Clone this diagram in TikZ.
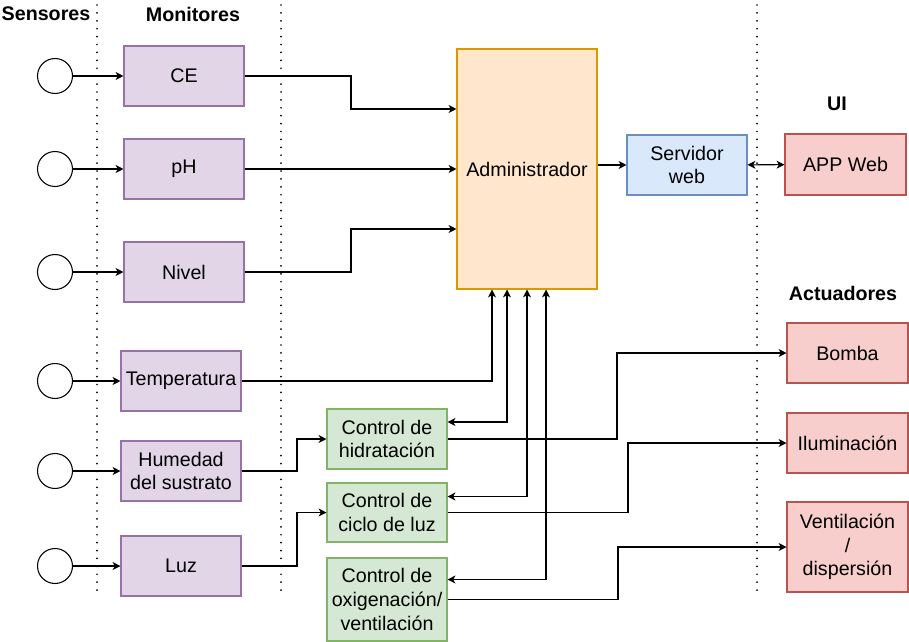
\documentclass[tikz,border=0pt]{standalone}
\usepackage{fontspec}
\setmainfont{Liberation Sans}
\usetikzlibrary{arrows.meta, calc}
\definecolor{monfill}{HTML}{E1D5E7}
\definecolor{mondraw}{HTML}{9673A6}
\definecolor{admfill}{HTML}{FFE6CC}
\definecolor{admdraw}{HTML}{D79B00}
\definecolor{srvfill}{HTML}{DAE8FC}
\definecolor{srvdraw}{HTML}{6C8EBF}
\definecolor{actfill}{HTML}{F8CECC}
\definecolor{actdraw}{HTML}{B85450}
\definecolor{ctlfill}{HTML}{D5E8D4}
\definecolor{ctldraw}{HTML}{82B366}

\begin{document}
\begin{tikzpicture}[x=0.02cm, y=-0.02cm, font=\fontsize{11.2}{13.4}\selectfont,
  box/.style={rectangle, draw, line width=0.6pt, minimum width=2.4cm, minimum height=1.2cm, align=center, inner sep=1pt},
  mon/.style={box, fill=monfill, draw=mondraw},
  ctl/.style={box, fill=ctlfill, draw=ctldraw},
  act/.style={box, fill=actfill, draw=actdraw, minimum width=2.42cm},
  sensor/.style={circle, draw, line width=0.6pt, minimum size=0.7cm, inner sep=0pt},
  head/.style={font=\fontsize{11.2}{13.4}\selectfont\bfseries},
  arr/.style={-{Stealth[length=4.5pt, width=4.5pt, inset=1.3pt]}, line width=0.6pt},
  arrb/.style={{Stealth[length=4.5pt, width=4.5pt, inset=1.3pt]}-{Stealth[length=4.5pt, width=4.5pt, inset=1.3pt]}, line width=0.6pt},
  sep/.style={line width=1.1pt, dash pattern=on 0pt off 4.5pt, line cap=round}]
\useasboundingbox (0,0) rectangle (909,642);

\draw[sep] (97,5) -- (97,592);
\draw[sep] (281,5) -- (281,592);
\draw[sep] (757,5) -- (757,592);

\node[head] (HS) at (46,14) {Sensores};
\node[head] (HM) at (193,14) {Monitores};
\node[head] (HU) at (837,104) {UI};
\node[head] (HA) at (843,293) {Actuadores};

\node[sensor] (S1) at (55,76) {};
\node[sensor] (S2) at (55,169) {};
\node[sensor] (S3) at (55,272) {};
\node[sensor] (S4) at (55,381) {};
\node[sensor] (S5) at (55,471) {};
\node[sensor] (S6) at (55,566) {};

\node[mon] (CE) at (184,76) {CE};
\node[mon] (PH) at (184,169) {pH};
\node[mon] (NIV) at (184,272) {Nivel};
\node[mon] (TEM) at (181,381) {Temperatura};
\node[mon] (HUM) at (181,471) {Humedad\\del sustrato};
\node[mon] (LUZ) at (181,566) {Luz};

\node[box, fill=admfill, draw=admdraw, minimum width=2.8cm, minimum height=4.8cm] (ADM) at (527,169) {Administrador};
\node[box, fill=srvfill, draw=srvdraw] (SRV) at (687,165) {Servidor\\web};
\node[act, minimum height=1.22cm] (APP) at (845.5,164.5) {APP Web};

\node[ctl] (HID) at (387,439) {Control de\\hidratación};
\node[ctl, minimum height=1.18cm] (CIC) at (387,512.5) {Control de\\ciclo de luz};
\node[ctl, minimum height=1.66cm] (OXI) at (387,599.5) {Control de\\oxigenación/\\ventilación};

\node[act] (BOM) at (847.5,353) {Bomba};
\node[act] (ILU) at (847.5,443) {Iluminación};
\node[act, minimum height=1.8cm] (VEN) at (847.5,547) {Ventilación\\/\\dispersión};

\draw[arr] (S1) -- (CE);
\draw[arr] (S2) -- (PH);
\draw[arr] (S3) -- (NIV);
\draw[arr] (S4) -- (TEM);
\draw[arr] (S5) -- (HUM);
\draw[arr] (S6) -- (LUZ);

\draw[arr] (CE.east) -- (351,76) |- ($(ADM.west)+(0,-60)$);
\draw[arr] (PH.east) -- (ADM.west);
\draw[arr] (NIV.east) -- (351,272) |- ($(ADM.west)+(0,60)$);
\draw[arr] (TEM.east) -| ($(ADM.south)+(-35,0)$);
\draw[arrb] ($(HID.east)+(0,-17)$) -| ($(ADM.south)+(-20,0)$);
\draw[arrb] ($(CIC.east)+(0,-16)$) -| (ADM.south);
\draw[arrb] ($(OXI.east)+(0,-20)$) -| ($(ADM.south)+(19,0)$);

\draw[arr] (ADM.east |- SRV.west) -- (SRV.west);
\draw[arrb] (SRV) -- (APP);

\draw[arr] (HUM.east) -- (297,471) |- (HID.west);
\draw[arr] (LUZ.east) -- (297,566) |- (CIC.west);

\draw[arr] (HID.east) -- (617,439) |- (BOM.west);
\draw[arr] (CIC.east) -- (628,512.5) |- (ILU.west);
\draw[arr] (OXI.east) -- (618,599.5) |- (VEN.west);

\end{tikzpicture}
\end{document}
